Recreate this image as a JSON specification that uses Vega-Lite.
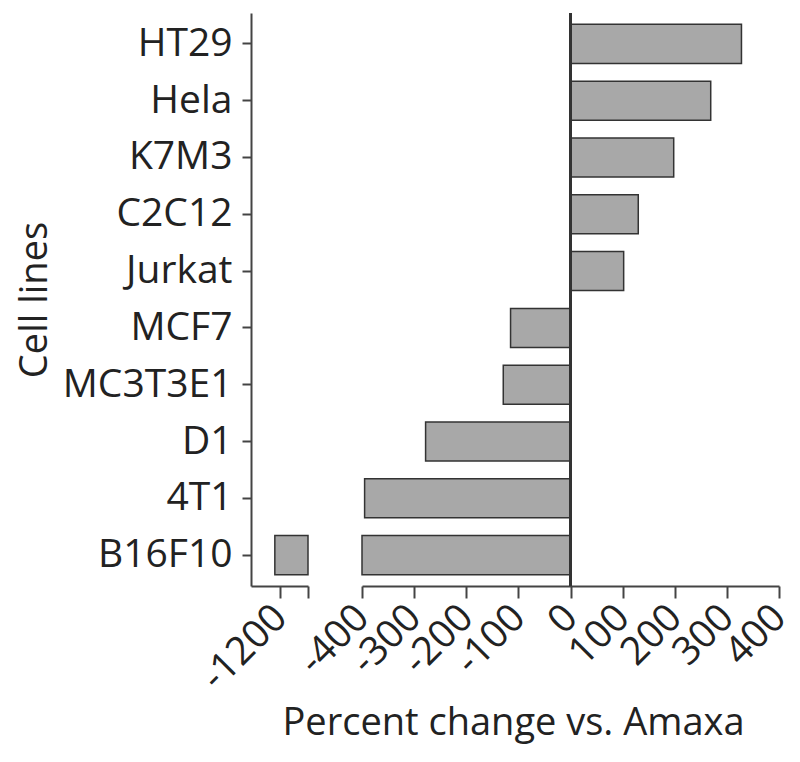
{
  "$schema": "https://vega.github.io/schema/vega-lite/v6.json",
  "padding": {"left": 16, "top": 12, "right": 5, "bottom": 5},
  "bounds": "flush",
  "spacing": 54,
  "config": {
    "font": "Open Sans",
    "view": {"stroke": null},
    "axis": {
      "labelFontSize": 39, "titleFontSize": 38, "labelColor": "#222", "titleColor": "#222",
      "titleFontWeight": "normal", "domainColor": "#444", "domainWidth": 2,
      "tickColor": "#444", "tickWidth": 2, "grid": false
    }
  },
  "data": {
    "values": [
      {"cell": "HT29", "value": 328},
      {"cell": "Hela", "value": 269},
      {"cell": "K7M3", "value": 198},
      {"cell": "C2C12", "value": 130},
      {"cell": "Jurkat", "value": 102},
      {"cell": "MCF7", "value": -115},
      {"cell": "MC3T3E1", "value": -129},
      {"cell": "D1", "value": -278},
      {"cell": "4T1", "value": -395},
      {"cell": "B16F10", "value": -1210}
    ]
  },
  "hconcat": [
    {
      "width": 57,
      "height": 573,
      "transform": [{"filter": "datum.value < -400"}],
      "mark": {"type": "bar", "fill": "#a8a8a8", "stroke": "#333", "strokeWidth": 1.5},
      "encoding": {
        "y": {
          "field": "cell", "type": "nominal", "sort": null,
          "scale": {
            "domain": ["HT29", "Hela", "K7M3", "C2C12", "Jurkat", "MCF7", "MC3T3E1", "D1", "4T1", "B16F10"],
            "paddingInner": 0.313, "paddingOuter": 0.2
          },
          "axis": {"title": "Cell lines", "tickSize": 9, "labelPadding": 10, "titlePadding": 8}
        },
        "x": {
          "field": "value", "type": "quantitative",
          "scale": {"domain": [-1256, -1146], "nice": false, "zero": false, "clamp": true},
          "axis": {
            "title": null, "values": [-1200, -1146], "tickSize": 12, "labelAngle": -45,
            "labelAlign": "right", "labelBaseline": "middle",
            "labelExpr": "datum.value == -1200 ? '-1200' : ''", "labelPadding": 13, "labelOverlap": false
          }
        }
      }
    },
    {
      "width": 417,
      "height": 573,
      "layer": [
        {
          "mark": {"type": "bar", "fill": "#a8a8a8", "stroke": "#333", "strokeWidth": 1.5},
          "encoding": {
            "y": {
              "field": "cell", "type": "nominal", "sort": null,
              "scale": {"paddingInner": 0.313, "paddingOuter": 0.2},
              "axis": null
            },
            "x": {
              "field": "value", "type": "quantitative",
              "scale": {"domain": [-400, 400], "nice": false, "clamp": true},
              "axis": {
                "title": "Percent change vs. Amaxa", "values": [-400, -300, -200, -100, 0, 100, 200, 300, 400],
                "tickSize": 12, "labelAngle": -45, "labelAlign": "right", "labelBaseline": "middle",
                "labelPadding": 13, "labelOverlap": false,
                "labelExpr": "datum.value + ''",
                "titleX": 151, "titleY": 118, "titleBaseline": "top"
              }
            }
          }
        },
        {
          "mark": {"type": "rule", "color": "#333", "strokeWidth": 2},
          "encoding": {"x": {"datum": 0, "type": "quantitative"}}
        }
      ]
    }
  ]
}
